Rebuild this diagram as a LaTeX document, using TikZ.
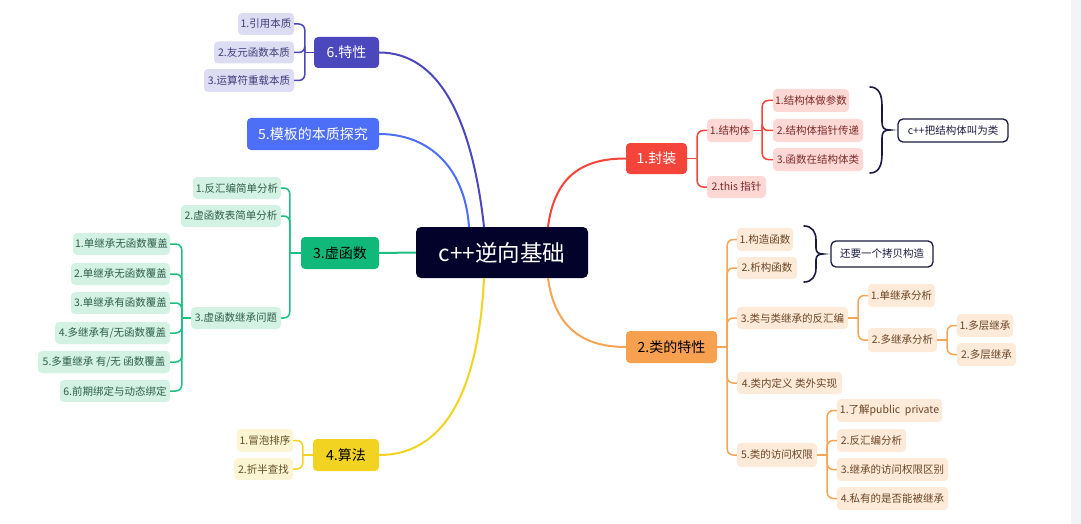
\documentclass[tikz,border=0pt]{standalone}
\usepackage{fontspec}
\setmainfont{Noto Sans CJK SC}
\usetikzlibrary{calc}
\definecolor{rootc}{HTML}{02022A}
\definecolor{indc}{HTML}{4B48BE}
\definecolor{indl}{HTML}{DCDCF2}
\definecolor{indt}{HTML}{3F3D7A}
\definecolor{bluc}{HTML}{4D6EF7}
\definecolor{grnc}{HTML}{10B97A}
\definecolor{grnline}{HTML}{1DBF80}
\definecolor{grnl}{HTML}{D3F2E4}
\definecolor{grnt}{HTML}{2E5E48}
\definecolor{yelc}{HTML}{F2D321}
\definecolor{yell}{HTML}{FCF5D4}
\definecolor{yelt}{HTML}{5E5020}
\definecolor{redc}{HTML}{F5453B}
\definecolor{redl}{HTML}{FDD8D5}
\definecolor{redt}{HTML}{7A2A26}
\definecolor{orac}{HTML}{F7A050}
\definecolor{oraline}{HTML}{F7A455}
\definecolor{oral}{HTML}{FDEAD8}
\definecolor{orat}{HTML}{6A4526}
\definecolor{navy}{HTML}{1A1A40}
\definecolor{strip}{HTML}{F3F4F8}
\tikzset{
  mainbox/.style={rounded corners=4pt, inner sep=0pt, font=\fontsize{14}{16}\selectfont},
  leafbox/.style={rounded corners=4pt, inner sep=0pt, font=\fontsize{10.5}{12}\selectfont},
  ind6/.style={leafbox, fill=indl, text=indt},
  grn3/.style={leafbox, fill=grnl, text=grnt},
  yel4/.style={leafbox, fill=yell, text=yelt},
  red1/.style={leafbox, fill=redl, text=redt},
  ora2/.style={leafbox, fill=oral, text=orat},
  notebox/.style={rounded corners=5pt, inner sep=0pt, draw=navy, line width=1.3pt, fill=white, text=navy, font=\fontsize{10.5}{12}\selectfont},
  mainline/.style={line width=2pt},
  subline/.style={line width=1.5pt, rounded corners=6pt},
  bracestyle/.style={draw=navy, line width=1.6pt, line cap=round},
}
\begin{document}
\begin{tikzpicture}[x=1pt,y=-1pt]
\useasboundingbox (0,0) rectangle (1081,524);
\fill[strip] (1071,0) rectangle (1081,524);

% root
\node[rounded corners=5pt, inner sep=0pt, fill=rootc, text=white, font=\fontsize{22.5}{26}\selectfont,
      minimum width=172, minimum height=51] (root) at (502,252.5) {c++逆向基础};

% main branches
\node[mainbox, fill=indc, text=white, minimum width=65, minimum height=31] (m6) at (346.5,52.5) {6.特性};
\node[mainbox, fill=bluc, text=white, minimum width=132, minimum height=32] (m5) at (313,134) {5.模板的本质探究};
\node[mainbox, fill=grnc, text=black, minimum width=78, minimum height=32] (m3) at (340,253) {3.虚函数};
\node[mainbox, fill=yelc, text=black, minimum width=66, minimum height=32] (m4) at (346,455) {4.算法};
\node[mainbox, fill=redc, text=white, minimum width=61, minimum height=31] (m1) at (656.5,158.5) {1.封装};
\node[mainbox, fill=orac, text=black, minimum width=91, minimum height=32] (m2) at (671.5,347) {2.类的特性};

% root connectors
\coordinate (r6) at ([xshift=-18pt]root.north);
\coordinate (r5) at ([xshift=-33pt]root.north);
\coordinate (r1) at ([xshift=46pt]root.north);
\coordinate (r4) at ([xshift=-18pt]root.south);
\coordinate (r2) at ([xshift=46pt]root.south);
\draw[mainline, indc] (r6) .. controls ($(r6)+(-12,-108)$) and ($(m6.east)+(60,0)$) .. (m6.east);
\draw[mainline, bluc] (r5) .. controls ($(r5)+(-4,-58)$) and ($(m5.east)+(51,0)$) .. (m5.east);
\draw[mainline, grnline] (root.west) -- (m3.east);
\draw[mainline, yelc] (r4) .. controls ($(r4)+(-6,121)$) and ($(m4.east)+(61,0)$) .. (m4.east);
\draw[mainline, redc] (r1) .. controls ($(r1)+(7,-53)$) and ($(m1.west)+(-41,0)$) .. (m1.west);
\draw[mainline, oraline] (r2) .. controls ($(r2)+(7,51)$) and ($(m2.west)+(-41,0)$) .. (m2.west);

% 6 children
\node[ind6, minimum width=56, minimum height=22] (a1) at (266,24) {1.引用本质};
\node[ind6, minimum width=80, minimum height=22] (a2) at (254,52.5) {2.友元函数本质};
\node[ind6, minimum width=90, minimum height=23] (a3) at (249,80.5) {3.运算符重载本质};
\draw[subline, indc] (m6.west) -- ++(-9,0) coordinate (t6);
\foreach \c in {a1,a2,a3} \draw[subline, indc] (t6) |- (\c.east);

% 3 children
\node[grn3, minimum width=88, minimum height=22] (b1) at (237,188) {1.反汇编简单分析};
\node[grn3, minimum width=100, minimum height=22] (b2) at (231,216) {2.虚函数表简单分析};
\node[grn3, minimum width=90, minimum height=22] (b3) at (236,318) {3.虚函数继承问题};
\draw[subline, grnline] (m3.west) -- ++(-11,0) coordinate (t3);
\foreach \c in {b1,b2,b3} \draw[subline, grnline] (t3) |- (\c.east);

\node[grn3, minimum width=97, minimum height=22] (c1) at (121.5,244) {1.单继承无函数覆盖};
\node[grn3, minimum width=99, minimum height=22] (c2) at (120.5,274) {2.单继承无函数覆盖};
\node[grn3, minimum width=99, minimum height=22] (c3) at (120.5,303) {3.单继承有函数覆盖};
\node[grn3, minimum width=115, minimum height=22] (c4) at (112.5,333) {4.多继承有/无函数覆盖};
\node[grn3, minimum width=132, minimum height=22] (c5) at (104,362) {5.多重继承 有/无 函数覆盖};
\node[grn3, minimum width=110, minimum height=22] (c6) at (115,391) {6.前期绑定与动态绑定};
\draw[subline, grnline] (b3.west) -- ++(-9,0) coordinate (t3b);
\foreach \c in {c1,c2,c3,c4,c5,c6} \draw[subline, grnline] (t3b) |- (\c.east);

% 4 children
\node[yel4, minimum width=56, minimum height=23] (d1) at (265,440.5) {1.冒泡排序};
\node[yel4, minimum width=59, minimum height=22] (d2) at (263.5,469) {2.折半查找};
\draw[subline, yelc] (m4.west) -- ++(-10,0) coordinate (t4);
\foreach \c in {d1,d2} \draw[subline, yelc] (t4) |- (\c.east);

% 1 children
\node[red1, minimum width=46, minimum height=23] (e1) at (730,130.5) {1.结构体};
\node[red1, minimum width=59, minimum height=22] (e2) at (736.5,187) {2.this 指针};
\draw[subline, redc] (m1.east) -- ++(10,0) coordinate (t1);
\foreach \c in {e1,e2} \draw[subline, redc] (t1) |- (\c.west);

\node[red1, minimum width=76, minimum height=23] (f1) at (811,100.5) {1.结构体做参数};
\node[red1, minimum width=90, minimum height=23] (f2) at (818,130.5) {2.结构体指针传递};
\node[red1, minimum width=90, minimum height=23] (f3) at (818,159.5) {3.函数在结构体类};
\draw[subline, redc] (e1.east) -- ++(9,0) coordinate (t1b);
\foreach \c in {f1,f2,f3} \draw[subline, redc] (t1b) |- (\c.west);

% brace 1 and note
\coordinate (bt1) at (870,87);
\coordinate (bb1) at (870,173);
\coordinate (bp1) at (890,130);
\draw[bracestyle] (bt1) .. controls (879,87) and (882,95) .. (882,106) -- (882,122)
   .. controls (882,128) and (884,130) .. (bp1)
   .. controls (884,130) and (882,132) .. (882,138) -- (882,154)
   .. controls (882,165) and (879,173) .. (bb1);
\node[notebox, minimum width=110, minimum height=23] (g1) at (953,130.5) {c++把结构体叫为类};

% 2 children
\node[ora2, minimum width=56, minimum height=23] (h1) at (765,239.5) {1.构造函数};
\node[ora2, minimum width=60, minimum height=22] (h2) at (767,268) {2.析构函数};
\node[ora2, minimum width=111, minimum height=22] (h3) at (792.5,318) {3.类与类继承的反汇编};
\node[ora2, minimum width=105, minimum height=22] (h4) at (789.5,383) {4.类内定义 类外实现};
\node[ora2, minimum width=80, minimum height=24] (h5) at (777,455) {5.类的访问权限};
\draw[subline, oraline] (m2.east) -- ++(10,0) coordinate (t2);
\foreach \c in {h1,h2,h3,h4,h5} \draw[subline, oraline] (t2) |- (\c.west);

\node[ora2, minimum width=67, minimum height=23] (i1) at (901.5,295.5) {1.单继承分析};
\node[ora2, minimum width=69, minimum height=24] (i2) at (902.5,340) {2.多继承分析};
\draw[subline, oraline] (h3.east) -- ++(10,0) coordinate (t2b);
\foreach \c in {i1,i2} \draw[subline, oraline] (t2b) |- (\c.west);

\node[ora2, minimum width=56, minimum height=23] (j1) at (985,325.5) {1.多层继承};
\node[ora2, minimum width=59, minimum height=23] (j2) at (986.5,354.5) {2.多层继承};
\draw[subline, oraline] (i2.east) -- ++(10,0) coordinate (t2c);
\foreach \c in {j1,j2} \draw[subline, oraline] (t2c) |- (\c.west);

\node[ora2, minimum width=105, minimum height=23] (k1) at (889.5,410.5) {1.了解public\ \ private};
\node[ora2, minimum width=69, minimum height=23] (k2) at (871.5,440.5) {2.反汇编分析};
\node[ora2, minimum width=111, minimum height=23] (k3) at (892.5,469.5) {3.继承的访问权限区别};
\node[ora2, minimum width=111, minimum height=23] (k4) at (892.5,498.5) {4.私有的是否能被继承};
\draw[subline, oraline] (h5.east) -- ++(10,0) coordinate (t2d);
\foreach \c in {k1,k2,k3,k4} \draw[subline, oraline] (t2d) |- (\c.west);

% brace 2 and note
\coordinate (bt2) at (804,226);
\coordinate (bb2) at (804,282);
\coordinate (bp2) at (823,254);
\draw[bracestyle] (bt2) .. controls (812,226) and (816,232) .. (816,240) -- (816,248)
   .. controls (816,252) and (818,254) .. (bp2)
   .. controls (818,254) and (816,256) .. (816,260) -- (816,268)
   .. controls (816,276) and (812,282) .. (bb2);
\node[notebox, minimum width=102, minimum height=26] (l1) at (882,254) {还要一个拷贝构造};
\end{tikzpicture}
\end{document}
